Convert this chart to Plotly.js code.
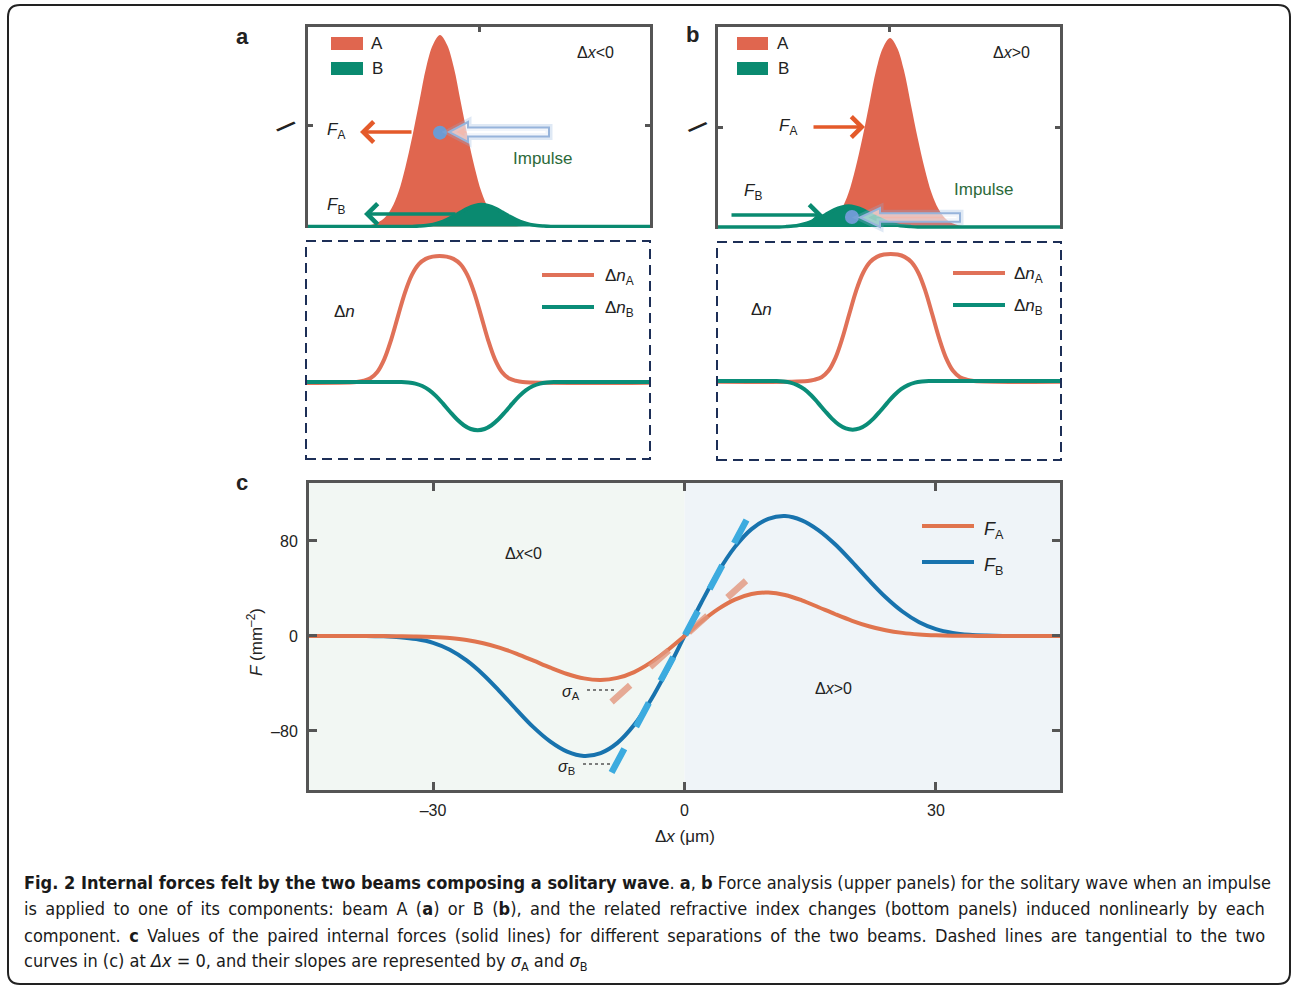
<!DOCTYPE html>
<html><head><meta charset="utf-8">
<script src="https://cdn.plot.ly/plotly-3.0.1.min.js"></script>
<style>html,body{margin:0;padding:0;background:#fff}#chart{width:1293px;height:986px}</style>
</head><body><div id="chart"></div>
<script>
// ================= DATA =================
// Upper panels: beam intensity profiles I (arb. units) vs offset from beam centre
const intensityOffset = [-24,-22,-20,-18,-16,-14,-12,-10,-8,-6,-4,-2,0,2,4,6,8,10,12,14,16,18,20,22,24];
const intensityA      = [0,0.3,0.8,2,4.5,9.5,18,31,47,65,83,95,100,95,83,65,47,31,18,9.5,4.5,2,0.8,0.3,0];
const intensityB_a    = [0,0,0,0.2,0.5,1.1,2.1,3.6,5.4,7.5,9.5,10.9,11.5,10.9,9.5,7.5,5.4,3.6,2.1,1.1,0.5,0.2,0,0,0];
const intensityB_b    = [0,0,0,0.2,0.5,1.1,2.0,3.5,5.2,7.2,9.2,10.5,11.1,10.5,9.2,7.2,5.2,3.5,2.0,1.1,0.5,0.2,0,0,0];
const beamBCentre_a = 12, beamBCentre_b = -12;      // position of beam B relative to beam A
const impulsePoint_a = [0, 49];                      // dot where the impulse hits (panel a)
const impulsePoint_b = [-11, 5.3];                   // (panel b)

// Lower panels: refractive index changes Δn vs offset
const deltaNOffset = [-24,-22,-20,-18,-16,-14,-12,-10,-8,-6,-4,-2,0,2,4,6,8,10,12,14,16,18,20,22,24];
const deltaNA = [0,0.01,0.03,0.08,0.18,0.335,0.525,0.71,0.85,0.935,0.977,0.995,1,0.995,0.977,0.935,0.85,0.71,0.525,0.335,0.18,0.08,0.03,0.01,0];
const deltaNB = [0,0,-0.004,-0.013,-0.032,-0.064,-0.112,-0.172,-0.236,-0.296,-0.343,-0.373,-0.383,-0.373,-0.343,-0.296,-0.236,-0.172,-0.112,-0.064,-0.032,-0.013,-0.004,0,0];
const dnBCentre_a = 11, dnBCentre_b = -11;

// Panel c: internal forces F (mm^-2) vs separation Δx (µm)
const separation = [-46,-44,-42,-40,-38,-36,-34,-32,-30,-28,-26,-24,-22,-20,-18,-16,-14,-12,-10,-8,-6,-4,-2,0,2,4,6,8,10,12,14,16,18,20,22,24,26,28,30,32,34,36,38,40,42,44,46];
const forceA = [0,0,0,0,0,-0.1,-0.2,-0.4,-0.9,-1.8,-3.4,-6.1,-10,-15,-20.8,-26.7,-32,-35.7,-37,-35.3,-30.4,-22.3,-11.8,0,12,22.6,30.6,35.4,36.5,34.5,30,24.2,18.3,12.8,8.2,4.8,2.6,1.3,0.6,0.25,0.1,0,0,0,0,0,0];
const forceB = [0,0,0,0,0,-0.3,-1,-2.6,-5.8,-11.6,-20.6,-32.6,-47,-62.4,-77,-89,-97.4,-101,-98.6,-90,-74.8,-53.7,-28,0,28,53.7,74.8,90,98.6,101,97.4,89,77,62.4,47,32.6,20.6,11.6,5.8,2.6,1,0.3,0,0,0,0,0];
const tangentAx = [-8.7, 7.5],  tangentAy = [-55.6, 47.5];   // slope σA
const tangentBx = [-8.7, 7.4],  tangentBy = [-115, 97.7];    // slope σB
const xTickVals = [-30, 0, 30],  xTickText = ['–30', '0', '30'];
const yTickVals = [-80, 0, 80],  yTickText = ['–80', '0', '80'];

// ================= STYLE / LAYOUT HELPERS =================
const W = 1293, H = 986;
const FONT = 'Liberation Sans, Arial, Helvetica, sans-serif';
const CAPFONT = 'Liberation Sans Narrow, DejaVu Sans Condensed, Open Sans, sans-serif';
const C = {
  fillA:'#e0664f', teal:'#0a8a70', dnA:'#e07158', dnB:'#0a8d78',
  fA:'#e0744e', fB:'#1873ae', tanA:'rgba(226,150,125,0.8)', tanB:'#3cabdf',
  arrowA:'#e45a2a', frame:'#555555', dash:'#1d2f57', impulse:'#2d6a3a', dot:'#6d9bd3', text:'#222222'
};
const px = x => x / W, py = y => 1 - y / H;
const P = (x, y) => `${px(x).toFixed(5)},${py(y).toFixed(5)}`;
function dom(a, b, vertical) { return vertical ? [py(b), py(a)] : [px(a), px(b)]; }
function txt(x, y, text, o = {}) {
  return {xref:'paper', yref:'paper', x:px(x), y:py(y), text, showarrow:false,
    xanchor:o.xanchor || 'center', yanchor:o.yanchor || 'middle', textangle:o.angle || 0,
    font:{family:o.family || FONT, size:o.size || 16, color:o.color || C.text}};
}
function arrow(tipX, tipY, dx, color) {
  return {xref:'paper', yref:'paper', x:px(tipX), y:py(tipY), ax:dx, ay:0, axref:'pixel', ayref:'pixel',
    text:'', showarrow:true, arrowhead:4, arrowsize:1.15, arrowwidth:3.5, arrowcolor:color};
}
function polyPath(pts) { return 'M ' + pts.map(p => P(p[0], p[1])).join(' L ') + ' Z'; }
function hollowArrow(tip, headBack, halfHead, bodyEnd, halfBody, yc) {
  return polyPath([[tip, yc], [headBack, yc - halfHead], [headBack, yc - halfBody], [bodyEnd, yc - halfBody],
                   [bodyEnd, yc + halfBody], [headBack, yc + halfBody], [headBack, yc + halfHead]]);
}
const pad = (arr, v) => [v[0], ...arr, v[1]];

// ================= TRACES =================
const traces = [];
// --- panel a (upper)
traces.push({x:intensityOffset, y:intensityA, xaxis:'x', yaxis:'y', type:'scatter', mode:'lines',
  line:{width:0, shape:'spline', color:C.fillA}, fill:'tozeroy', fillcolor:C.fillA, hoverinfo:'skip'});
traces.push({x:pad(intensityOffset.map(v => v + beamBCentre_a), [-80, 80]), y:pad(intensityB_a, [0, 0]),
  xaxis:'x', yaxis:'y', type:'scatter', mode:'lines', line:{width:3.5, shape:'spline', color:C.teal},
  fill:'tozeroy', fillcolor:C.teal, hoverinfo:'skip'});
// --- panel b (upper)
traces.push({x:intensityOffset, y:intensityA, xaxis:'x2', yaxis:'y2', type:'scatter', mode:'lines',
  line:{width:0, shape:'spline', color:C.fillA}, fill:'tozeroy', fillcolor:C.fillA, hoverinfo:'skip'});
traces.push({x:pad(intensityOffset.map(v => v + beamBCentre_b), [-80, 80]), y:pad(intensityB_b, [0, 0]),
  xaxis:'x2', yaxis:'y2', type:'scatter', mode:'lines', line:{width:3.5, shape:'spline', color:C.teal},
  fill:'tozeroy', fillcolor:C.teal, hoverinfo:'skip'});
// --- panel a (lower) Δn
traces.push({x:pad(deltaNOffset, [-80, 80]), y:pad(deltaNA, [0, 0]), xaxis:'x3', yaxis:'y3', type:'scatter',
  mode:'lines', line:{width:4, shape:'spline', color:C.dnA}});
traces.push({x:pad(deltaNOffset.map(v => v + dnBCentre_a), [-80, 80]), y:pad(deltaNB, [0, 0]), xaxis:'x3', yaxis:'y3',
  type:'scatter', mode:'lines', line:{width:4, shape:'spline', color:C.dnB}});
// --- panel b (lower) Δn
traces.push({x:pad(deltaNOffset, [-80, 80]), y:pad(deltaNA, [0, 0]), xaxis:'x4', yaxis:'y4', type:'scatter',
  mode:'lines', line:{width:4, shape:'spline', color:C.dnA}});
traces.push({x:pad(deltaNOffset.map(v => v + dnBCentre_b), [-80, 80]), y:pad(deltaNB, [0, 0]), xaxis:'x4', yaxis:'y4',
  type:'scatter', mode:'lines', line:{width:4, shape:'spline', color:C.dnB}});
// --- panel c forces
traces.push({x:separation, y:forceB, xaxis:'x5', yaxis:'y5', type:'scatter', mode:'lines', name:'F_B',
  line:{width:4, shape:'spline', color:C.fB}});
traces.push({x:separation, y:forceA, xaxis:'x5', yaxis:'y5', type:'scatter', mode:'lines', name:'F_A',
  line:{width:4, shape:'spline', color:C.fA}});
traces.push({x:tangentAx, y:tangentAy, xaxis:'x5', yaxis:'y5', type:'scatter', mode:'lines',
  line:{width:6.5, color:C.tanA, dash:'25px,27px'}});
traces.push({x:tangentBx, y:tangentBy, xaxis:'x5', yaxis:'y5', type:'scatter', mode:'lines',
  line:{width:6.5, color:C.tanB, dash:'27px,25px'}});
// impulse dots
traces.push({x:[impulsePoint_a[0]], y:[impulsePoint_a[1]], xaxis:'x', yaxis:'y', type:'scatter', mode:'markers',
  marker:{size:14, color:C.dot}, cliponaxis:false});
traces.push({x:[impulsePoint_b[0]], y:[impulsePoint_b[1]], xaxis:'x2', yaxis:'y2', type:'scatter', mode:'markers',
  marker:{size:14, color:C.dot}, cliponaxis:false});

// ================= AXES =================
const frameAxis = {showline:true, linecolor:C.frame, linewidth:3, ticks:'inside', ticklen:5, tickwidth:3,
  tickcolor:C.frame, showticklabels:false, showgrid:false, zeroline:false, fixedrange:true};
const hidden = {visible:false, fixedrange:true};
const layout = {
  width:W, height:H, margin:{l:0, r:0, t:0, b:0}, showlegend:false,
  paper_bgcolor:'#ffffff', plot_bgcolor:'rgba(0,0,0,0)',
  xaxis:  Object.assign({}, frameAxis, {domain:dom(308, 650), range:[-38.15, 60.7], side:'top', mirror:false, tickvals:[11.3], anchor:'y'}),
  yaxis:  Object.assign({}, frameAxis, {domain:dom(27, 228, true), range:[-0.8, 104.2], mirror:'ticks', tickvals:[52.5], anchor:'x'}),
  xaxis2: Object.assign({}, frameAxis, {domain:dom(718, 1060), range:[-49.7, 49.1], side:'top', mirror:false, tickvals:[-0.3], anchor:'y2'}),
  yaxis2: Object.assign({}, frameAxis, {domain:dom(27, 229, true), range:[-1.06, 105.8], mirror:'ticks', tickvals:[52.9], anchor:'x2'}),
  xaxis3: Object.assign({}, hidden, {domain:dom(306, 650), range:[-38.6, 60.8], anchor:'y3'}),
  yaxis3: Object.assign({}, hidden, {domain:dom(241, 459, true), range:[-0.611, 1.119], anchor:'x3'}),
  xaxis4: Object.assign({}, hidden, {domain:dom(717, 1061), range:[-50.2, 49.2], anchor:'y4'}),
  yaxis4: Object.assign({}, hidden, {domain:dom(242, 459, true), range:[-0.614, 1.094], anchor:'x4'}),
  xaxis5: {domain:dom(309, 1060), range:[-44.8, 44.8], anchor:'y5', showline:true, mirror:'ticks', linecolor:C.frame,
    linewidth:3, ticks:'inside', ticklen:8, tickwidth:3, tickcolor:C.frame, tickvals:xTickVals, ticktext:xTickText,
    tickfont:{family:FONT, size:16, color:C.text}, ticklabelstandoff:4, showgrid:false, zeroline:false, fixedrange:true},
  yaxis5: {domain:dom(483, 790, true), range:[-129.7, 128.8], anchor:'x5', showline:true, mirror:'ticks', linecolor:C.frame,
    linewidth:3, ticks:'inside', ticklen:8, tickwidth:3, tickcolor:C.frame, tickvals:yTickVals, ticktext:yTickText,
    tickfont:{family:FONT, size:16, color:C.text}, ticklabelstandoff:5, showgrid:false, zeroline:false, fixedrange:true},
  shapes:[], annotations:[]
};

// ================= SHAPES =================
const S = layout.shapes;
// outer rounded border
S.push({type:'path', xref:'paper', yref:'paper', layer:'above', line:{color:'#222', width:2},
  path:`M ${P(20,5)} L ${P(1278,5)} Q ${P(1290,5)} ${P(1290,17)} L ${P(1290,972)} Q ${P(1290,984)} ${P(1278,984)} L ${P(20,984)} Q ${P(8,984)} ${P(8,972)} L ${P(8,17)} Q ${P(8,5)} ${P(20,5)} Z`});
// panel c backgrounds
S.push({type:'rect', xref:'x5', yref:'y5 domain', x0:-44.8, x1:0, y0:0, y1:1, layer:'below', line:{width:0}, fillcolor:'#f2f7f3'});
S.push({type:'rect', xref:'x5', yref:'y5 domain', x0:0, x1:44.8, y0:0, y1:1, layer:'below', line:{width:0}, fillcolor:'#eff4f8'});
// dashed boxes of lower panels
[[306,241,650,459],[717,242,1061,460]].forEach(b => S.push({type:'rect', xref:'paper', yref:'paper',
  x0:px(b[0]), x1:px(b[2]), y0:py(b[3]), y1:py(b[1]), line:{color:C.dash, width:2, dash:'10px,6px'}, layer:'above'}));
// impulse hollow arrows (glow + outline)
[[449,468,10,549,4.6,132],[860,880,9.5,960,4.3,217.5]].forEach(a => {
  const p = hollowArrow(...a);
  S.push({type:'path', xref:'paper', yref:'paper', path:p, layer:'above', line:{color:'rgba(140,175,220,0.28)', width:7}});
  S.push({type:'path', xref:'paper', yref:'paper', path:p, layer:'above', line:{color:'#97b4db', width:2}, fillcolor:'rgba(255,255,255,0.55)'});
});
// legend swatches of upper panels
[[331,37,363,50,C.fillA],[331,62,363,75,C.teal],[737,37,768,50,C.fillA],[737,62,768,75,C.teal]].forEach(r =>
  S.push({type:'rect', xref:'paper', yref:'paper', x0:px(r[0]), x1:px(r[2]), y0:py(r[3]), y1:py(r[1]), line:{width:0}, fillcolor:r[4]}));
// legend lines of lower panels and panel c
[[542,594,275,C.dnA],[542,594,307,C.dnB],[953,1005,273,C.dnA],[953,1005,305,C.dnB],[922,974,526,C.fA],[922,974,562,C.fB]].forEach(l =>
  S.push({type:'line', xref:'paper', yref:'paper', x0:px(l[0]), x1:px(l[1]), y0:py(l[2]), y1:py(l[2]), line:{color:l[3], width:4}}));
// dotted leader lines for σ labels
[[587,617,690],[583,612,764]].forEach(l =>
  S.push({type:'line', xref:'paper', yref:'paper', x0:px(l[0]), x1:px(l[1]), y0:py(l[2]), y1:py(l[2]), line:{color:'#555', width:1.5, dash:'dot'}}));

// ================= ANNOTATIONS =================
const A = layout.annotations;
A.push(txt(242, 36, '<b>a</b>', {size:22}), txt(692, 35, '<b>b</b>', {size:22}), txt(242, 482, '<b>c</b>', {size:22}));
// panel a upper
A.push(txt(286, 126, '<i>I</i>', {size:28, angle:55}));
A.push(txt(377, 44, 'A', {size:17}), txt(377, 69, 'B', {size:17}));
A.push(txt(595, 52, 'Δ<i>x</i><0', {size:16}));
A.push(txt(336, 131, '<i>F</i><sub>A</sub>', {size:17}), txt(336, 206, '<i>F</i><sub>B</sub>', {size:17}));
A.push(txt(543, 158, 'Impulse', {size:17, color:C.impulse}));
A.push(arrow(360, 132, 53, C.arrowA), arrow(364, 214, 93, C.teal));
// panel b upper
A.push(txt(697, 127, '<i>I</i>', {size:28, angle:55}));
A.push(txt(783, 44, 'A', {size:17}), txt(783, 69, 'B', {size:17}));
A.push(txt(1011, 53, 'Δ<i>x</i>>0', {size:16}));
A.push(txt(788, 127, '<i>F</i><sub>A</sub>', {size:17}), txt(753, 192, '<i>F</i><sub>B</sub>', {size:17}));
A.push(txt(984, 189, 'Impulse', {size:17, color:C.impulse}));
A.push(arrow(865, 127, -53, C.arrowA), arrow(823, 215, -93, C.teal));
// lower panels
A.push(txt(345, 311, 'Δ<i>n</i>', {size:17}), txt(761, 309, 'Δ<i>n</i>', {size:17}));
A.push(txt(603, 277, 'Δ<i>n</i><sub>A</sub>', {size:17, xanchor:'left'}), txt(603, 309, 'Δ<i>n</i><sub>B</sub>', {size:17, xanchor:'left'}));
A.push(txt(1012, 275, 'Δ<i>n</i><sub>A</sub>', {size:17, xanchor:'left'}), txt(1012, 307, 'Δ<i>n</i><sub>B</sub>', {size:17, xanchor:'left'}));
// panel c
A.push(txt(982, 530, '<i>F</i><sub>A</sub>', {size:18, xanchor:'left'}), txt(982, 566, '<i>F</i><sub>B</sub>', {size:18, xanchor:'left'}));
A.push(txt(523, 553, 'Δ<i>x</i><0', {size:16}), txt(834, 688, 'Δ<i>x</i>>0', {size:16}));
A.push(txt(571, 692, '<i>σ</i><sub>A</sub>', {size:16}), txt(566, 767, '<i>σ</i><sub>B</sub>', {size:16}));
A.push(txt(685, 836, 'Δ<i>x</i> (μm)', {size:17}));
A.push(txt(255, 642, '<i>F</i> (mm<sup>–2</sup>)', {size:17, angle:-90}));
// caption (lines 2 and 3 get a thin space per gap to mimic the justified setting)
const widen = s => s.replace(/ /g, ' \u2009');
const capLines = [
  '<b>Fig. 2 Internal forces felt by the two beams composing a solitary wave</b>. <b>a</b>, <b>b</b> Force analysis (upper panels) for the solitary wave when an impulse',
  widen('is applied to one of its components: beam A (<b>a</b>) or B (<b>b</b>), and the related refractive index changes (bottom panels) induced nonlinearly by each'),
  widen('component. <b>c</b> Values of the paired internal forces (solid lines) for different separations of the two beams. Dashed lines are tangential to the two'),
  'curves in (c) at <i>Δx</i> = 0, and their slopes are represented by <i>σ</i><sub>A</sub> and <i>σ</i><sub>B</sub>'
];
const capY = [882, 908, 935, 962];
capLines.forEach((t, i) => A.push(txt(22, capY[i], t, {size:18, xanchor:'left', family:CAPFONT, color:'#1a1a1a'})));

Plotly.newPlot('chart', traces, layout, {staticPlot:true, displayModeBar:false});
</script></body></html>
